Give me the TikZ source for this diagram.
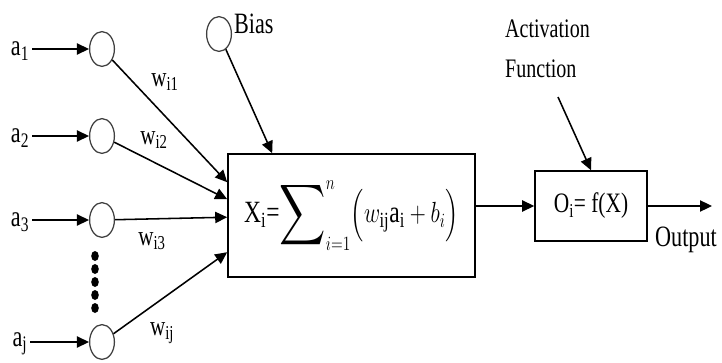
\documentclass[tikz,border=0pt]{standalone}
\usepackage{amsmath}
\usepackage{fontspec}
\setmainfont{Liberation Serif}
\usepackage{graphicx}
\usetikzlibrary{arrows.meta,positioning,shapes.geometric,calc}
\newcommand{\narrow}[1]{\scalebox{0.76}[1]{#1}}
\tikzset{
  >={Triangle[length=3mm,width=2.8mm]},
  neuron/.style={ellipse,draw=black!75,line width=0.9pt,minimum width=6.2mm,
    minimum height=8.7mm,inner sep=0pt},
  lbl/.style={font=\fontsize{21}{24}\selectfont,xscale=0.75,inner sep=0pt},
  wlbl/.style={font=\fontsize{20}{22}\selectfont,xscale=0.75,inner sep=0pt},
  block/.style={draw=black,line width=1.1pt,inner sep=0pt},
  link/.style={->,line width=1.1pt},
}

\begin{document}
\begin{tikzpicture}[x=0.025cm,y=-0.025cm]
  \useasboundingbox (0,0) rectangle (722,362);
  % summing junction and activation
  \node[block,minimum width=6.175cm,minimum height=3.075cm,font=\fontsize{22}{26}\selectfont] (sum) at (351.5,215.5)
    {\narrow{$\mathrm{X_i}$=$\displaystyle\mathop{\vcenter{\hbox{\scalebox{1.45}{$\displaystyle\sum$}}}}\nolimits_{i=1}^{n}\Bigl(w_{\mathrm{ij}}\mathrm{a_i}+b_i\Bigr)$}\hspace{4pt}};
  \node[block,minimum width=2.8cm,minimum height=1.75cm,font=\fontsize{20}{22}\selectfont] (act) at (591,206)
    {\narrow{O\textsubscript{i}= f(X)}};
  % inputs
  \foreach \i/\y in {1/49,2/136,3/220,j/342}{
    \node[neuron] (n\i) at (102,\y) {};
    \node[lbl] (a\i) at (20,\y+2) {a\textsubscript{\i}};
    \draw[link,shorten <=2pt] (a\i.east |- n\i) -- (n\i.west);
  }
  \foreach \y in {256,269,282,295,308}
    \fill (95,\y) ellipse (0.95mm and 1.25mm);
  % weights into the sum
  \coordinate (t1) at ($(sum.north west)+(0,29)$);
  \coordinate (t2) at ($(sum.north west)+(0,46)$);
  \coordinate (t3) at ($(sum.north west)+(0,64)$);
  \coordinate (tj) at ($(sum.north west)+(0,99)$);
  \draw[link] (n1) -- (t1);
  \draw[link] (n2) -- (t2);
  \draw[link] (n3) -- (t3);
  \draw[link] (nj) -- (tj);
  \node[wlbl] (w1) at (165,82) {w\textsubscript{i1}};
  \node[wlbl] (w2) at (154,140) {w\textsubscript{i2}};
  \node[wlbl] (w3) at (152,241) {w\textsubscript{i3}};
  \node[wlbl] (wj) at (162,333) {w\textsubscript{ij}};
  % bias
  \node[neuron] (bias) at (219,34) {};
  \node[lbl,anchor=base west] (biaslbl) at (234,33) {Bias};
  \draw[link] (bias) -- ($(sum.north west)+(45,0)$);
  % activation and output
  \node[lbl,align=left,anchor=north west,font=\fontsize{19}{28}\selectfont] (actlbl) at (505,20) {Activation\\Function};
  \coordinate (actfrom) at (558,97);
  \draw[link] (actfrom) -- (act.north);
  \draw[link] (sum.east |- act.west) -- (act.west);
  \coordinate (outend) at (712,206);
  \draw[link] (act.east) -- (outend);
  \node[lbl] (outlbl) at (686,240) {Output};
\end{tikzpicture}
\end{document}
